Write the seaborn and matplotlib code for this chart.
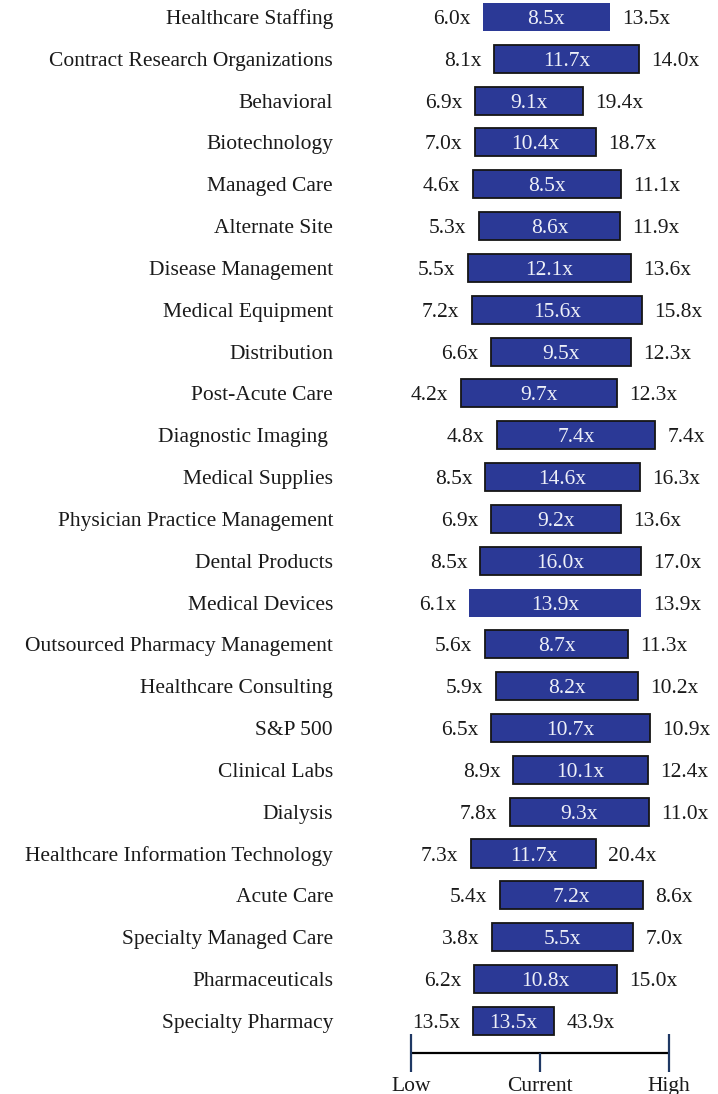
import matplotlib
matplotlib.use("Agg")
import matplotlib.pyplot as plt
import seaborn as sns
import pandas as pd

# Data
categories = [
    "Healthcare Staffing", "Contract Research Organizations", "Behavioral",
    "Biotechnology", "Managed Care", "Alternate Site", "Disease Management",
    "Medical Equipment", "Distribution", "Post-Acute Care", "Diagnostic Imaging ",
    "Medical Supplies", "Physician Practice Management", "Dental Products",
    "Medical Devices", "Outsourced Pharmacy Management", "Healthcare Consulting",
    "S&P 500", "Clinical Labs", "Dialysis", "Healthcare Information Technology",
    "Acute Care", "Specialty Managed Care", "Pharmaceuticals", "Specialty Pharmacy",
]
low_vals = [6.0, 8.1, 6.9, 7.0, 4.6, 5.3, 5.5, 7.2, 6.6, 4.2, 4.8, 8.5, 6.9,
            8.5, 6.1, 5.6, 5.9, 6.5, 8.9, 7.8, 7.3, 5.4, 3.8, 6.2, 13.5]
current_vals = [8.5, 11.7, 9.1, 10.4, 8.5, 8.6, 12.1, 15.6, 9.5, 9.7, 7.4, 14.6, 9.2,
                16.0, 13.9, 8.7, 8.2, 10.7, 10.1, 9.3, 11.7, 7.2, 5.5, 10.8, 13.5]
high_vals = [13.5, 14.0, 19.4, 18.7, 11.1, 11.9, 13.6, 15.8, 12.3, 12.3, 7.4, 16.3, 13.6,
             17.0, 13.9, 11.3, 10.2, 10.9, 12.4, 11.0, 20.4, 8.6, 7.0, 15.0, 43.9]
# bar extents on the Low (0) -> High (100) guide scale, as drawn in the picture
bar_start = [27.9, 32.2, 24.8, 24.8, 24.0, 26.4, 22.1, 23.6, 31.0, 19.4, 33.3, 28.7, 31.0,
             26.7, 22.5, 28.7, 32.9, 31.0, 39.5, 38.4, 23.3, 34.5, 31.4, 24.4, 24.0]
bar_end = [77.1, 88.4, 66.7, 71.7, 81.4, 81.0, 85.3, 89.5, 85.3, 79.8, 94.6, 88.8, 81.4,
           89.1, 89.1, 84.1, 88.0, 92.6, 91.9, 92.2, 71.7, 89.9, 86.0, 79.8, 55.4]
# bars drawn without a dark outline
no_outline = ["Healthcare Staffing", "Medical Devices"]
guide_labels = ["Low", "Current", "High"]
guide_pos = [0, 50, 100]

bar_color = "#2b3996"
text_color = "#1a1a1a"
fs = 15.5

df = pd.DataFrame({
    "category": categories,
    "start": bar_start,
    "span": [e - s for s, e in zip(bar_start, bar_end)],
})

sns.set_theme(style="white")
plt.rcParams["font.family"] = ["Liberation Serif", "DejaVu Serif"]
plt.rcParams["font.size"] = fs

fig = plt.figure(figsize=(7.18, 10.94), dpi=100)
ax = fig.add_axes([340 / 718, 0, 1 - 340 / 718, 1])

sns.barplot(data=df, y="category", x="span", left=list(df["start"]),
            orient="h", width=0.67, color=bar_color, saturation=1, ax=ax)

for patch, cat in zip(ax.patches, categories):
    patch.set_facecolor(bar_color)
    if cat in no_outline:
        patch.set_edgecolor(bar_color)
        patch.set_linewidth(0)
    else:
        patch.set_edgecolor("#151515")
        patch.set_linewidth(1.3)

# value labels
for i in range(len(categories)):
    ax.annotate(f"{low_vals[i]:.1f}x", (bar_start[i], i), xytext=(-9, 0),
                textcoords="offset points", ha="right", va="center_baseline",
                color=text_color, fontsize=fs)
    ax.annotate(f"{high_vals[i]:.1f}x", (bar_end[i], i), xytext=(9, 0),
                textcoords="offset points", ha="left", va="center_baseline",
                color=text_color, fontsize=fs)
    ax.text((bar_start[i] + bar_end[i]) / 2, i, f"{current_vals[i]:.1f}x",
            ha="center", va="center_baseline", color="#eef0f8", fontsize=fs)

# Low / Current / High guide
y_line = 24.77
ax.plot([guide_pos[0], guide_pos[-1]], [y_line, y_line], color="black", lw=1.6,
        clip_on=False, solid_capstyle="butt")
ax.vlines([guide_pos[0], guide_pos[-1]], 24.31, 25.22, color="#1f3864", lw=1.6, clip_on=False)
ax.vlines(guide_pos[1], y_line, 25.22, color="#1f3864", lw=1.6, clip_on=False)
for p, lab in zip(guide_pos, guide_labels):
    ax.text(p, 25.34, lab, ha="center", va="top", color=text_color, fontsize=fs,
            clip_on=False)

ax.set_xlim(-27.5, 119.0)
ax.set_ylim(25.75, -0.406)
ax.set_xlabel("")
ax.set_ylabel("")
ax.set_xticks([])
ax.tick_params(axis="y", length=0, pad=5, labelsize=fs, labelcolor=text_color)
sns.despine(ax=ax, left=True, bottom=True)

fig.savefig("out.png", dpi=100)
plt.close(fig)
